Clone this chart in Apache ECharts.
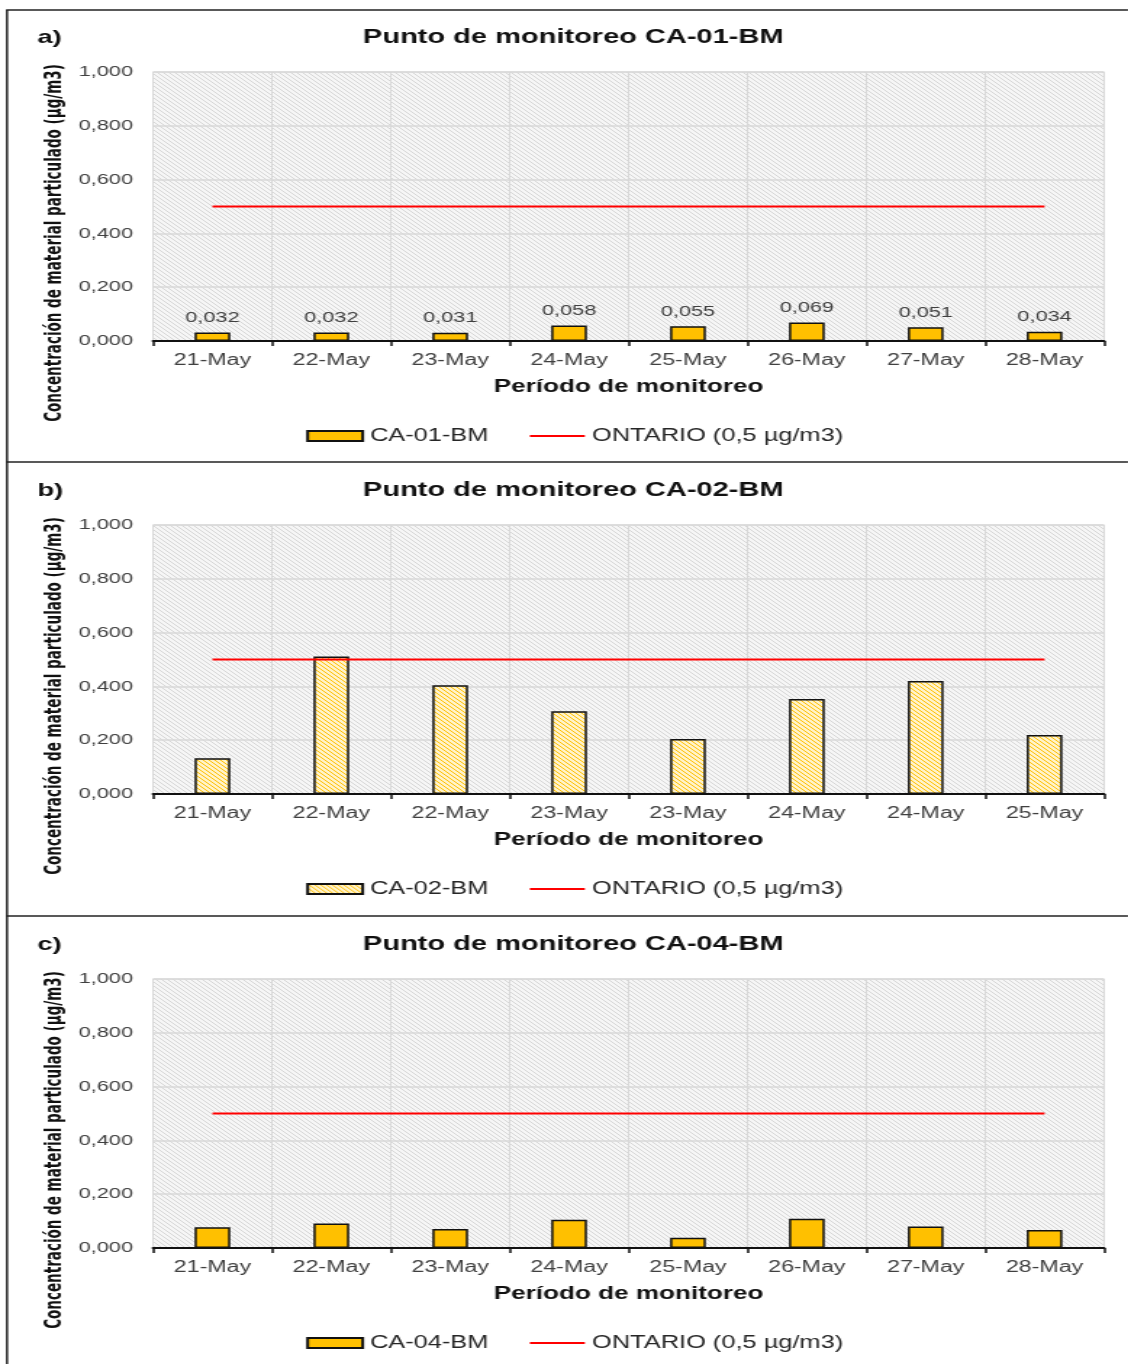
<!DOCTYPE html>
<html>
<head>
<meta charset="utf-8">
<script src="https://cdn.jsdelivr.net/npm/echarts@6/dist/echarts.min.js"></script>
<style>
  html, body { margin: 0; padding: 0; background: #fff; overflow: hidden; }
  #main { height: 1364px; transform-origin: 0 0; }
</style>
</head>
<body>
<div id="main"></div>
<script>
// datos de los tres puntos de monitoreo
var catsA = ['21-May', '22-May', '23-May', '24-May', '25-May', '26-May', '27-May', '28-May'];
var catsB = ['21-May', '22-May', '22-May', '23-May', '23-May', '24-May', '24-May', '25-May'];
var catsC = ['21-May', '22-May', '23-May', '24-May', '25-May', '26-May', '27-May', '28-May'];
var valsA = [0.032, 0.032, 0.031, 0.058, 0.055, 0.069, 0.051, 0.034];
var valsB = [0.133, 0.511, 0.404, 0.308, 0.204, 0.353, 0.420, 0.219];
var valsC = [0.077, 0.091, 0.071, 0.105, 0.038, 0.109, 0.080, 0.067];
var ontario = 0.5;
var panelLetters = ['a)', 'b)', 'c)'];
var stations = ['CA-01-BM', 'CA-02-BM', 'CA-04-BM'];
var ontarioName = 'ONTARIO (0,5 µg/m3)';
var yName = 'Concentración de material particulado (µg/m3)';

// la imagen original esta estirada a lo ancho
var S = 1.45;
function X(v) { return v / S; }

var dom = document.getElementById('main');
dom.style.width = (1128 / S) + 'px';
dom.style.transform = 'scaleX(' + S + ')';

function hatch(bg, fg, size) {
  var c = document.createElement('canvas');
  c.width = size; c.height = size;
  var ctx = c.getContext('2d');
  ctx.fillStyle = bg;
  ctx.fillRect(0, 0, size, size);
  ctx.strokeStyle = fg;
  ctx.lineWidth = 1;
  for (var k = -size; k <= size; k += size) {
    ctx.beginPath();
    ctx.moveTo(k, 0);
    ctx.lineTo(k + size, size);
    ctx.stroke();
  }
  return { image: c, repeat: 'repeat' };
}

var plotBg = hatch('#f6f6f6', '#d6d6d6', 4);
var barHatch = hatch('#fff3cc', '#ffc000', 4);

var fmt = function (v) { return v.toFixed(3).replace('.', ','); };
var offsets = [0, 453, 907];
var cats = [catsA, catsB, catsC];
var vals = [valsA, valsB, valsC];

var titles = [], grids = [], xAxes = [], yAxes = [], series = [], legends = [], graphics = [];

for (var i = 0; i < 3; i++) {
  var dy = offsets[i];
  titles.push({
    text: panelLetters[i], left: X(30), top: 23 + dy,
    textStyle: { fontFamily: 'Liberation Sans', fontSize: 19, fontWeight: 'bold', color: '#111' }
  });
  titles.push({
    text: 'Punto de monitoreo ' + stations[i], left: X(566), top: 22 + dy, textAlign: 'center',
    textStyle: { fontFamily: 'Liberation Sans', fontSize: 20, fontWeight: 'bold', color: '#111' }
  });
  grids.push({
    left: X(153), top: 72 + dy, width: X(951), height: 269,
    show: true, backgroundColor: plotBg, borderColor: '#d9d9d9', borderWidth: 1
  });
  xAxes.push({
    type: 'category', gridIndex: i, data: cats[i],
    name: 'Período de monitoreo', nameLocation: 'middle', nameGap: 37,
    nameTextStyle: { fontFamily: 'Liberation Sans', fontSize: 18, fontWeight: 'bold', color: '#111' },
    axisLine: { lineStyle: { color: '#111', width: 2 } },
    axisTick: { show: true, interval: 0, length: 5, lineStyle: { color: '#111', width: 1.5 } },
    axisLabel: { interval: 0, margin: 12, fontFamily: 'Liberation Sans', fontSize: 16, color: '#404040' },
    splitLine: { show: true, interval: 0, lineStyle: { color: '#d9d9d9', width: 1 } }
  });
  yAxes.push({
    type: 'value', gridIndex: i, min: 0, max: 1, interval: 0.2,
    axisLine: { show: false }, axisTick: { show: false },
    axisLabel: { formatter: fmt, margin: X(20), fontFamily: 'Liberation Sans', fontSize: 15, color: '#404040' },
    splitLine: { lineStyle: { color: '#d9d9d9', width: 1.5 } }
  });
  series.push({
    name: stations[i], type: 'bar', xAxisIndex: i, yAxisIndex: i, data: vals[i],
    barWidth: '30%',
    itemStyle: { color: i === 1 ? barHatch : '#ffc000', borderColor: '#111', borderWidth: 1.5 },
    label: {
      show: i === 0, position: 'top', distance: 7, formatter: function (p) { return fmt(p.value); },
      fontFamily: 'Liberation Sans', fontSize: 15, color: '#404040'
    }
  });
  series.push({
    name: ontarioName, type: 'line', xAxisIndex: i, yAxisIndex: i,
    data: cats[i].map(function () { return ontario; }),
    symbol: 'none', lineStyle: { color: '#ff0000', width: 2 }, itemStyle: { color: '#ff0000' },
    z: 5
  });
  legends.push({
    data: [{ name: stations[i], icon: 'rect' }, { name: ontarioName, itemStyle: { opacity: 0 } }],
    left: X(299), top: 422 + dy,
    itemWidth: X(55), itemHeight: 10, itemGap: X(40),
    textStyle: { fontFamily: 'Liberation Sans', fontSize: 17.5, color: '#262626' }
  });
  graphics.push({
    type: 'text', x: X(55), y: 243 + dy, rotation: Math.PI / 2,
    style: {
      text: yName, align: 'center', verticalAlign: 'middle', fill: '#111',
      font: 'bold 15px "Liberation Sans Narrow", "DejaVu Sans Condensed", sans-serif'
    }
  });
}

// marco de la figura
var frameStyle = { stroke: '#222', lineWidth: 1.5 };
graphics.push({ type: 'line', shape: { x1: X(6), y1: 10, x2: X(1128), y2: 10 }, style: frameStyle });
graphics.push({ type: 'line', shape: { x1: X(7), y1: 10, x2: X(7), y2: 1364 }, style: frameStyle });
graphics.push({ type: 'line', shape: { x1: X(6), y1: 462, x2: X(1128), y2: 462 }, style: frameStyle });
graphics.push({ type: 'line', shape: { x1: X(6), y1: 916, x2: X(1128), y2: 916 }, style: frameStyle });

var myChart = echarts.init(dom);
var option = {
  animation: false,
  backgroundColor: '#fff',
  title: titles,
  grid: grids,
  xAxis: xAxes,
  yAxis: yAxes,
  legend: legends,
  series: series,
  graphic: graphics
};
myChart.setOption(option);
</script>
</body>
</html>
